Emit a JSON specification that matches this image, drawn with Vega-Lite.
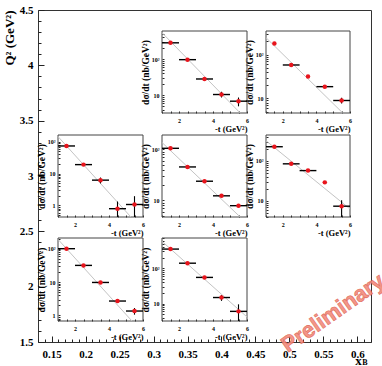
{
"$schema": "https://vega.github.io/schema/vega-lite/v6.json",
"width": 333, "height": 332,
"autosize": "none",
"padding": {"left": 38, "top": 10, "right": 11, "bottom": 24},
"config": {
  "font": "Liberation Serif",
  "view": {"stroke": "#333", "strokeWidth": 1},
  "axis": {"labelFont": "Liberation Serif", "labelFontWeight": "bold", "titleFont": "Liberation Serif", "titleFontWeight": "bold", "labelColor": "black", "titleColor": "black", "tickColor": "#222", "grid": false, "labelFontSize": 6, "titleFontSize": 8}
},
"datasets": {
  "pts": [
    {"panel":"A","t":1.5,"sig":281,"tlo":1,"thi":2},
    {"panel":"A","t":2.5,"sig":96,"tlo":2,"thi":3},
    {"panel":"A","t":3.5,"sig":28,"tlo":3,"thi":4},
    {"panel":"A","t":4.5,"sig":10.4,"tlo":4,"thi":5,"lo":8.6,"hi":12.4},
    {"panel":"A","t":5.5,"sig":6.8,"tlo":5,"thi":6,"lo":4.9,"hi":8.6},
    {"panel":"B","t":1.5,"sig":179},
    {"panel":"B","t":2.5,"sig":58,"tlo":2,"thi":3},
    {"panel":"B","t":3.5,"sig":31.6},
    {"panel":"B","t":4.5,"sig":18.6,"tlo":4,"thi":5},
    {"panel":"B","t":5.5,"sig":9.0,"tlo":5,"thi":6,"lo":7.7,"hi":10.4},
    {"panel":"C","t":1.5,"sig":73,"tlo":1,"thi":2},
    {"panel":"C","t":2.5,"sig":19,"tlo":2,"thi":3},
    {"panel":"C","t":3.5,"sig":6.2,"tlo":3,"thi":4,"lo":4.9,"hi":7.5},
    {"panel":"C","t":4.5,"sig":0.79,"tlo":4,"thi":5,"lo":0.434,"hi":1.33},
    {"panel":"C","t":5.5,"sig":1.07,"tlo":5,"thi":6,"lo":0.434,"hi":1.95},
    {"panel":"D","t":1.5,"sig":104,"tlo":1,"thi":2},
    {"panel":"D","t":2.5,"sig":45,"tlo":2,"thi":3},
    {"panel":"D","t":3.5,"sig":23.7,"tlo":3,"thi":4},
    {"panel":"D","t":4.5,"sig":12.3,"tlo":4,"thi":5},
    {"panel":"D","t":5.5,"sig":7.9,"tlo":5,"thi":6},
    {"panel":"E","t":1.5,"sig":224,"tlo":1,"thi":2},
    {"panel":"E","t":2.5,"sig":84,"tlo":2,"thi":3},
    {"panel":"E","t":3.5,"sig":57,"tlo":3,"thi":4},
    {"panel":"E","t":4.5,"sig":29},
    {"panel":"E","t":5.5,"sig":7.4,"tlo":5,"thi":6,"lo":3.98,"hi":10.4},
    {"panel":"F","t":1.5,"sig":102,"tlo":1,"thi":2},
    {"panel":"F","t":2.5,"sig":32,"tlo":2,"thi":3},
    {"panel":"F","t":3.5,"sig":9.8,"tlo":3,"thi":4},
    {"panel":"F","t":4.5,"sig":2.7,"tlo":4,"thi":5},
    {"panel":"F","t":5.5,"sig":1.35,"tlo":5,"thi":6,"lo":1.05,"hi":1.66},
    {"panel":"G","t":1.5,"sig":349,"tlo":1,"thi":2},
    {"panel":"G","t":2.5,"sig":139,"tlo":2,"thi":3},
    {"panel":"G","t":3.5,"sig":55,"tlo":3,"thi":4},
    {"panel":"G","t":4.5,"sig":14.8,"tlo":4,"thi":5,"lo":11.9,"hi":17.3},
    {"panel":"G","t":5.5,"sig":6.0,"tlo":5,"thi":6,"lo":3.2,"hi":9.5}
  ],
  "fits": [
    {"panel":"A","t":1,"sig":536},{"panel":"A","t":5.6,"sig":3.2},
    {"panel":"B","t":1,"sig":243},{"panel":"B","t":5.57,"sig":4.67},
    {"panel":"C","t":1,"sig":144},{"panel":"C","t":5.29,"sig":0.434},
    {"panel":"D","t":1,"sig":135},{"panel":"D","t":5.6,"sig":4.75},
    {"panel":"E","t":1,"sig":316},{"panel":"E","t":6,"sig":6.3},
    {"panel":"F","t":1,"sig":195},{"panel":"F","t":5.35,"sig":0.676},
    {"panel":"G","t":1,"sig":578},{"panel":"G","t":6,"sig":4.16}
  ],
  "notes": [{"xB": 0.564, "Q2": 1.762, "label": "Preliminary"}]
},
"resolve": {"scale": {"x": "independent", "y": "independent"}, "axis": {"x": "independent", "y": "independent"}},
"layer": [
  {
    "data": {"name": "notes"},
    "mark": {"type": "text", "angle": 325, "fontSize": 22, "font": "Liberation Sans", "fontWeight": "bold", "fill": "#f28b7d", "stroke": "#dd5a48", "strokeWidth": 0.6, "opacity": 0.9},
    "encoding": {
      "text": {"field": "label"},
      "x": {"field": "xB", "type": "quantitative", "scale": {"domain": [0.13, 0.62], "nice": false, "zero": false},
        "axis": {"orient": "bottom", "domain": false, "values": [0.13,0.14,0.15,0.16,0.17,0.18,0.19,0.2,0.21,0.22,0.23,0.24,0.25,0.26,0.27,0.28,0.29,0.3,0.31,0.32,0.33,0.34,0.35,0.36,0.37,0.38,0.39,0.4,0.41,0.42,0.43,0.44,0.45,0.46,0.47,0.48,0.49,0.5,0.51,0.52,0.53,0.54,0.55,0.56,0.57,0.58,0.59,0.6,0.61,0.62],
          "labelExpr": "abs(datum.value*20 - round(datum.value*20)) < 0.001 ? '' + datum.value : ''",
          "tickSize": {"condition": {"test": "abs(datum.value*20 - round(datum.value*20)) < 0.001", "value": -6}, "value": -3},
          "labelPadding": 12, "labelFontSize": 11, "labelFlush": false, "labelOverlap": false,
          "title": "x", "titleFontSize": 13, "titleX": 320, "titleY": 22, "titleBaseline": "alphabetic", "titleAlign": "center"}},
      "y": {"field": "Q2", "type": "quantitative", "scale": {"domain": [1.5, 4.5], "nice": false, "zero": false},
        "axis": {"orient": "left", "domain": false, "values": [1.5,1.6,1.7,1.8,1.9,2,2.1,2.2,2.3,2.4,2.5,2.6,2.7,2.8,2.9,3,3.1,3.2,3.3,3.4,3.5,3.6,3.7,3.8,3.9,4,4.1,4.2,4.3,4.4,4.5],
          "labelExpr": "abs(datum.value*2 - round(datum.value*2)) < 0.001 ? '' + datum.value : ''",
          "tickSize": {"condition": {"test": "abs(datum.value*2 - round(datum.value*2)) < 0.001", "value": -6}, "value": -3},
          "labelPadding": 11, "labelFontSize": 11, "labelFlush": false, "labelOverlap": false,
          "title": "Q² (GeV²)", "titleAnchor": "end", "titleFontSize": 13, "titlePadding": 3}}
    }
  },
  {
    "data": {"values": [{}]},
    "mark": {"type": "text", "text": "B", "fontSize": 8, "fontWeight": "bold", "dx": -6, "dy": 21},
    "encoding": {
      "x": {"datum": 0.62, "type": "quantitative", "scale": {"domain": [0.13, 0.62], "nice": false, "zero": false}, "axis": null},
      "y": {"datum": 1.5, "type": "quantitative", "scale": {"domain": [1.5, 4.5], "nice": false, "zero": false}, "axis": null}
    }
  },

  {"data": {"values": [{}]}, "mark": {"type": "rect", "filled": false, "stroke": "#444", "strokeWidth": 1},
   "encoding": {"x": {"datum": 1, "type": "quantitative", "scale": {"domain": [1,6], "range": [124,209], "nice": false, "zero": false}, "axis": null}, "x2": {"datum": 6},
     "y": {"datum": 3.2, "type": "quantitative", "scale": {"type": "log", "domain": [3.2,597], "range": [103,21], "nice": false}, "axis": null}, "y2": {"datum": 597}}},
  {"data": {"name": "fits"}, "transform": [{"filter": "datum.panel == 'A'"}], "mark": {"type": "line", "color": "#c4c4c4", "strokeWidth": 1},
   "encoding": {"x": {"field": "t", "type": "quantitative", "scale": {"domain": [1,6], "range": [124,209], "nice": false, "zero": false}, "axis": null},
     "y": {"field": "sig", "type": "quantitative", "scale": {"type": "log", "domain": [3.2,597], "range": [103,21], "nice": false}, "axis": null}}},
  {"data": {"name": "pts"}, "transform": [{"filter": "datum.panel == 'A' && isValid(datum.tlo)"}], "mark": {"type": "rule", "color": "black", "strokeWidth": 1.4},
   "encoding": {"x": {"field": "tlo", "type": "quantitative", "scale": {"domain": [1,6], "range": [124,209], "nice": false, "zero": false}, "axis": null}, "x2": {"field": "thi"},
     "y": {"field": "sig", "type": "quantitative", "scale": {"type": "log", "domain": [3.2,597], "range": [103,21], "nice": false}, "axis": null}}},
  {"data": {"name": "pts"}, "transform": [{"filter": "datum.panel == 'A' && isValid(datum.lo)"}], "mark": {"type": "rule", "color": "black", "strokeWidth": 1.1},
   "encoding": {"x": {"field": "t", "type": "quantitative", "scale": {"domain": [1,6], "range": [124,209], "nice": false, "zero": false}, "axis": null},
     "y": {"field": "lo", "type": "quantitative", "scale": {"type": "log", "domain": [3.2,597], "range": [103,21], "nice": false}, "axis": null}, "y2": {"field": "hi"}}},
  {"data": {"name": "pts"}, "transform": [{"filter": "datum.panel == 'A'"}], "mark": {"type": "point", "filled": true, "color": "#e8141c", "size": 20, "opacity": 1},
   "encoding": {"x": {"field": "t", "type": "quantitative", "scale": {"domain": [1,6], "range": [124,209], "nice": false, "zero": false},
       "axis": {"orient": "bottom", "offset": -229, "domain": false, "tickSize": -2, "values": [1,1.5,2,2.5,3,3.5,4,4.5,5,5.5,6], "labelExpr": "datum.value % 2 == 0 ? '' + datum.value : ''", "labelPadding": 6, "labelFlush": false, "labelOverlap": false, "title": "-t (GeV²)", "titleAnchor": "end", "titleFontSize": 8.5, "titlePadding": 1}},
     "y": {"field": "sig", "type": "quantitative", "scale": {"type": "log", "domain": [3.2,597], "range": [103,21], "nice": false},
       "axis": {"orient": "left", "offset": -124, "domain": false, "tickSize": -2, "values": [0.4,0.5,0.6,0.7,0.8,0.9,1,2,3,4,5,6,7,8,9,10,20,30,40,50,60,70,80,90,100,200,300,400,500,600,700], "labelExpr": "datum.value == 1 ? '1' : datum.value == 10 ? '10' : datum.value == 100 ? '10²' : ''", "labelPadding": 5, "labelFlush": false, "labelOverlap": false, "title": "dσ/dt (nb/GeV²)", "titleFontSize": 9.5, "titlePadding": 1}}}},

  {"data": {"values": [{}]}, "mark": {"type": "rect", "filled": false, "stroke": "#444", "strokeWidth": 1},
   "encoding": {"x": {"datum": 1, "type": "quantitative", "scale": {"domain": [1,6], "range": [228,312], "nice": false, "zero": false}, "axis": null}, "x2": {"datum": 6},
     "y": {"datum": 4.67, "type": "quantitative", "scale": {"type": "log", "domain": [4.67,345], "range": [103,21], "nice": false}, "axis": null}, "y2": {"datum": 345}}},
  {"data": {"name": "fits"}, "transform": [{"filter": "datum.panel == 'B'"}], "mark": {"type": "line", "color": "#c4c4c4", "strokeWidth": 1},
   "encoding": {"x": {"field": "t", "type": "quantitative", "scale": {"domain": [1,6], "range": [228,312], "nice": false, "zero": false}, "axis": null},
     "y": {"field": "sig", "type": "quantitative", "scale": {"type": "log", "domain": [4.67,345], "range": [103,21], "nice": false}, "axis": null}}},
  {"data": {"name": "pts"}, "transform": [{"filter": "datum.panel == 'B' && isValid(datum.tlo)"}], "mark": {"type": "rule", "color": "black", "strokeWidth": 1.4},
   "encoding": {"x": {"field": "tlo", "type": "quantitative", "scale": {"domain": [1,6], "range": [228,312], "nice": false, "zero": false}, "axis": null}, "x2": {"field": "thi"},
     "y": {"field": "sig", "type": "quantitative", "scale": {"type": "log", "domain": [4.67,345], "range": [103,21], "nice": false}, "axis": null}}},
  {"data": {"name": "pts"}, "transform": [{"filter": "datum.panel == 'B' && isValid(datum.lo)"}], "mark": {"type": "rule", "color": "black", "strokeWidth": 1.1},
   "encoding": {"x": {"field": "t", "type": "quantitative", "scale": {"domain": [1,6], "range": [228,312], "nice": false, "zero": false}, "axis": null},
     "y": {"field": "lo", "type": "quantitative", "scale": {"type": "log", "domain": [4.67,345], "range": [103,21], "nice": false}, "axis": null}, "y2": {"field": "hi"}}},
  {"data": {"name": "pts"}, "transform": [{"filter": "datum.panel == 'B'"}], "mark": {"type": "point", "filled": true, "color": "#e8141c", "size": 20, "opacity": 1},
   "encoding": {"x": {"field": "t", "type": "quantitative", "scale": {"domain": [1,6], "range": [228,312], "nice": false, "zero": false},
       "axis": {"orient": "bottom", "offset": -229, "domain": false, "tickSize": -2, "values": [1,1.5,2,2.5,3,3.5,4,4.5,5,5.5,6], "labelExpr": "datum.value % 2 == 0 ? '' + datum.value : ''", "labelPadding": 6, "labelFlush": false, "labelOverlap": false, "title": "-t (GeV²)", "titleAnchor": "end", "titleFontSize": 8.5, "titlePadding": 1}},
     "y": {"field": "sig", "type": "quantitative", "scale": {"type": "log", "domain": [4.67,345], "range": [103,21], "nice": false},
       "axis": {"orient": "left", "offset": -228, "domain": false, "tickSize": -2, "values": [0.4,0.5,0.6,0.7,0.8,0.9,1,2,3,4,5,6,7,8,9,10,20,30,40,50,60,70,80,90,100,200,300,400,500,600,700], "labelExpr": "datum.value == 1 ? '1' : datum.value == 10 ? '10' : datum.value == 100 ? '10²' : ''", "labelPadding": 5, "labelFlush": false, "labelOverlap": false, "title": "dσ/dt (nb/GeV²)", "titleFontSize": 9.5, "titlePadding": 1}}}},

  {"data": {"values": [{}]}, "mark": {"type": "rect", "filled": false, "stroke": "#444", "strokeWidth": 1},
   "encoding": {"x": {"datum": 1, "type": "quantitative", "scale": {"domain": [1,6], "range": [20,105], "nice": false, "zero": false}, "axis": null}, "x2": {"datum": 6},
     "y": {"datum": 0.434, "type": "quantitative", "scale": {"type": "log", "domain": [0.434,161], "range": [207,125], "nice": false}, "axis": null}, "y2": {"datum": 161}}},
  {"data": {"name": "fits"}, "transform": [{"filter": "datum.panel == 'C'"}], "mark": {"type": "line", "color": "#c4c4c4", "strokeWidth": 1},
   "encoding": {"x": {"field": "t", "type": "quantitative", "scale": {"domain": [1,6], "range": [20,105], "nice": false, "zero": false}, "axis": null},
     "y": {"field": "sig", "type": "quantitative", "scale": {"type": "log", "domain": [0.434,161], "range": [207,125], "nice": false}, "axis": null}}},
  {"data": {"name": "pts"}, "transform": [{"filter": "datum.panel == 'C' && isValid(datum.tlo)"}], "mark": {"type": "rule", "color": "black", "strokeWidth": 1.4},
   "encoding": {"x": {"field": "tlo", "type": "quantitative", "scale": {"domain": [1,6], "range": [20,105], "nice": false, "zero": false}, "axis": null}, "x2": {"field": "thi"},
     "y": {"field": "sig", "type": "quantitative", "scale": {"type": "log", "domain": [0.434,161], "range": [207,125], "nice": false}, "axis": null}}},
  {"data": {"name": "pts"}, "transform": [{"filter": "datum.panel == 'C' && isValid(datum.lo)"}], "mark": {"type": "rule", "color": "black", "strokeWidth": 1.1},
   "encoding": {"x": {"field": "t", "type": "quantitative", "scale": {"domain": [1,6], "range": [20,105], "nice": false, "zero": false}, "axis": null},
     "y": {"field": "lo", "type": "quantitative", "scale": {"type": "log", "domain": [0.434,161], "range": [207,125], "nice": false}, "axis": null}, "y2": {"field": "hi"}}},
  {"data": {"name": "pts"}, "transform": [{"filter": "datum.panel == 'C'"}], "mark": {"type": "point", "filled": true, "color": "#e8141c", "size": 20, "opacity": 1},
   "encoding": {"x": {"field": "t", "type": "quantitative", "scale": {"domain": [1,6], "range": [20,105], "nice": false, "zero": false},
       "axis": {"orient": "bottom", "offset": -125, "domain": false, "tickSize": -2, "values": [1,1.5,2,2.5,3,3.5,4,4.5,5,5.5,6], "labelExpr": "datum.value % 2 == 0 ? '' + datum.value : ''", "labelPadding": 6, "labelFlush": false, "labelOverlap": false, "title": "-t (GeV²)", "titleAnchor": "end", "titleFontSize": 8.5, "titlePadding": 1}},
     "y": {"field": "sig", "type": "quantitative", "scale": {"type": "log", "domain": [0.434,161], "range": [207,125], "nice": false},
       "axis": {"orient": "left", "offset": -20, "domain": false, "tickSize": -2, "values": [0.4,0.5,0.6,0.7,0.8,0.9,1,2,3,4,5,6,7,8,9,10,20,30,40,50,60,70,80,90,100,200,300,400,500,600,700], "labelExpr": "datum.value == 1 ? '1' : datum.value == 10 ? '10' : datum.value == 100 ? '10²' : ''", "labelPadding": 5, "labelFlush": false, "labelOverlap": false, "title": "dσ/dt (nb/GeV²)", "titleFontSize": 9.5, "titlePadding": 1}}}},

  {"data": {"values": [{}]}, "mark": {"type": "rect", "filled": false, "stroke": "#444", "strokeWidth": 1},
   "encoding": {"x": {"datum": 1, "type": "quantitative", "scale": {"domain": [1,6], "range": [124,209], "nice": false, "zero": false}, "axis": null}, "x2": {"datum": 6},
     "y": {"datum": 4.75, "type": "quantitative", "scale": {"type": "log", "domain": [4.75,189], "range": [207,125], "nice": false}, "axis": null}, "y2": {"datum": 189}}},
  {"data": {"name": "fits"}, "transform": [{"filter": "datum.panel == 'D'"}], "mark": {"type": "line", "color": "#c4c4c4", "strokeWidth": 1},
   "encoding": {"x": {"field": "t", "type": "quantitative", "scale": {"domain": [1,6], "range": [124,209], "nice": false, "zero": false}, "axis": null},
     "y": {"field": "sig", "type": "quantitative", "scale": {"type": "log", "domain": [4.75,189], "range": [207,125], "nice": false}, "axis": null}}},
  {"data": {"name": "pts"}, "transform": [{"filter": "datum.panel == 'D' && isValid(datum.tlo)"}], "mark": {"type": "rule", "color": "black", "strokeWidth": 1.4},
   "encoding": {"x": {"field": "tlo", "type": "quantitative", "scale": {"domain": [1,6], "range": [124,209], "nice": false, "zero": false}, "axis": null}, "x2": {"field": "thi"},
     "y": {"field": "sig", "type": "quantitative", "scale": {"type": "log", "domain": [4.75,189], "range": [207,125], "nice": false}, "axis": null}}},
  {"data": {"name": "pts"}, "transform": [{"filter": "datum.panel == 'D'"}], "mark": {"type": "point", "filled": true, "color": "#e8141c", "size": 20, "opacity": 1},
   "encoding": {"x": {"field": "t", "type": "quantitative", "scale": {"domain": [1,6], "range": [124,209], "nice": false, "zero": false},
       "axis": {"orient": "bottom", "offset": -125, "domain": false, "tickSize": -2, "values": [1,1.5,2,2.5,3,3.5,4,4.5,5,5.5,6], "labelExpr": "datum.value % 2 == 0 ? '' + datum.value : ''", "labelPadding": 6, "labelFlush": false, "labelOverlap": false, "title": "-t (GeV²)", "titleAnchor": "end", "titleFontSize": 8.5, "titlePadding": 1}},
     "y": {"field": "sig", "type": "quantitative", "scale": {"type": "log", "domain": [4.75,189], "range": [207,125], "nice": false},
       "axis": {"orient": "left", "offset": -124, "domain": false, "tickSize": -2, "values": [0.4,0.5,0.6,0.7,0.8,0.9,1,2,3,4,5,6,7,8,9,10,20,30,40,50,60,70,80,90,100,200,300,400,500,600,700], "labelExpr": "datum.value == 1 ? '1' : datum.value == 10 ? '10' : datum.value == 100 ? '10²' : ''", "labelPadding": 5, "labelFlush": false, "labelOverlap": false, "title": "dσ/dt (nb/GeV²)", "titleFontSize": 9.5, "titlePadding": 1}}}},

  {"data": {"values": [{}]}, "mark": {"type": "rect", "filled": false, "stroke": "#444", "strokeWidth": 1},
   "encoding": {"x": {"datum": 1, "type": "quantitative", "scale": {"domain": [1,6], "range": [228,312], "nice": false, "zero": false}, "axis": null}, "x2": {"datum": 6},
     "y": {"datum": 3.98, "type": "quantitative", "scale": {"type": "log", "domain": [3.98,439], "range": [207,125], "nice": false}, "axis": null}, "y2": {"datum": 439}}},
  {"data": {"name": "fits"}, "transform": [{"filter": "datum.panel == 'E'"}], "mark": {"type": "line", "color": "#c4c4c4", "strokeWidth": 1},
   "encoding": {"x": {"field": "t", "type": "quantitative", "scale": {"domain": [1,6], "range": [228,312], "nice": false, "zero": false}, "axis": null},
     "y": {"field": "sig", "type": "quantitative", "scale": {"type": "log", "domain": [3.98,439], "range": [207,125], "nice": false}, "axis": null}}},
  {"data": {"name": "pts"}, "transform": [{"filter": "datum.panel == 'E' && isValid(datum.tlo)"}], "mark": {"type": "rule", "color": "black", "strokeWidth": 1.4},
   "encoding": {"x": {"field": "tlo", "type": "quantitative", "scale": {"domain": [1,6], "range": [228,312], "nice": false, "zero": false}, "axis": null}, "x2": {"field": "thi"},
     "y": {"field": "sig", "type": "quantitative", "scale": {"type": "log", "domain": [3.98,439], "range": [207,125], "nice": false}, "axis": null}}},
  {"data": {"name": "pts"}, "transform": [{"filter": "datum.panel == 'E' && isValid(datum.lo)"}], "mark": {"type": "rule", "color": "black", "strokeWidth": 1.1},
   "encoding": {"x": {"field": "t", "type": "quantitative", "scale": {"domain": [1,6], "range": [228,312], "nice": false, "zero": false}, "axis": null},
     "y": {"field": "lo", "type": "quantitative", "scale": {"type": "log", "domain": [3.98,439], "range": [207,125], "nice": false}, "axis": null}, "y2": {"field": "hi"}}},
  {"data": {"name": "pts"}, "transform": [{"filter": "datum.panel == 'E'"}], "mark": {"type": "point", "filled": true, "color": "#e8141c", "size": 20, "opacity": 1},
   "encoding": {"x": {"field": "t", "type": "quantitative", "scale": {"domain": [1,6], "range": [228,312], "nice": false, "zero": false},
       "axis": {"orient": "bottom", "offset": -125, "domain": false, "tickSize": -2, "values": [1,1.5,2,2.5,3,3.5,4,4.5,5,5.5,6], "labelExpr": "datum.value % 2 == 0 ? '' + datum.value : ''", "labelPadding": 6, "labelFlush": false, "labelOverlap": false, "title": "-t (GeV²)", "titleAnchor": "end", "titleFontSize": 8.5, "titlePadding": 1}},
     "y": {"field": "sig", "type": "quantitative", "scale": {"type": "log", "domain": [3.98,439], "range": [207,125], "nice": false},
       "axis": {"orient": "left", "offset": -228, "domain": false, "tickSize": -2, "values": [0.4,0.5,0.6,0.7,0.8,0.9,1,2,3,4,5,6,7,8,9,10,20,30,40,50,60,70,80,90,100,200,300,400,500,600,700], "labelExpr": "datum.value == 1 ? '1' : datum.value == 10 ? '10' : datum.value == 100 ? '10²' : ''", "labelPadding": 5, "labelFlush": false, "labelOverlap": false, "title": "dσ/dt (nb/GeV²)", "titleFontSize": 9.5, "titlePadding": 1}}}},

  {"data": {"values": [{}]}, "mark": {"type": "rect", "filled": false, "stroke": "#444", "strokeWidth": 1},
   "encoding": {"x": {"datum": 1, "type": "quantitative", "scale": {"domain": [1,6], "range": [20,105], "nice": false, "zero": false}, "axis": null}, "x2": {"datum": 6},
     "y": {"datum": 0.676, "type": "quantitative", "scale": {"type": "log", "domain": [0.676,214], "range": [311,228], "nice": false}, "axis": null}, "y2": {"datum": 214}}},
  {"data": {"name": "fits"}, "transform": [{"filter": "datum.panel == 'F'"}], "mark": {"type": "line", "color": "#c4c4c4", "strokeWidth": 1},
   "encoding": {"x": {"field": "t", "type": "quantitative", "scale": {"domain": [1,6], "range": [20,105], "nice": false, "zero": false}, "axis": null},
     "y": {"field": "sig", "type": "quantitative", "scale": {"type": "log", "domain": [0.676,214], "range": [311,228], "nice": false}, "axis": null}}},
  {"data": {"name": "pts"}, "transform": [{"filter": "datum.panel == 'F' && isValid(datum.tlo)"}], "mark": {"type": "rule", "color": "black", "strokeWidth": 1.4},
   "encoding": {"x": {"field": "tlo", "type": "quantitative", "scale": {"domain": [1,6], "range": [20,105], "nice": false, "zero": false}, "axis": null}, "x2": {"field": "thi"},
     "y": {"field": "sig", "type": "quantitative", "scale": {"type": "log", "domain": [0.676,214], "range": [311,228], "nice": false}, "axis": null}}},
  {"data": {"name": "pts"}, "transform": [{"filter": "datum.panel == 'F' && isValid(datum.lo)"}], "mark": {"type": "rule", "color": "black", "strokeWidth": 1.1},
   "encoding": {"x": {"field": "t", "type": "quantitative", "scale": {"domain": [1,6], "range": [20,105], "nice": false, "zero": false}, "axis": null},
     "y": {"field": "lo", "type": "quantitative", "scale": {"type": "log", "domain": [0.676,214], "range": [311,228], "nice": false}, "axis": null}, "y2": {"field": "hi"}}},
  {"data": {"name": "pts"}, "transform": [{"filter": "datum.panel == 'F'"}], "mark": {"type": "point", "filled": true, "color": "#e8141c", "size": 20, "opacity": 1},
   "encoding": {"x": {"field": "t", "type": "quantitative", "scale": {"domain": [1,6], "range": [20,105], "nice": false, "zero": false},
       "axis": {"orient": "bottom", "offset": -21, "domain": false, "tickSize": -2, "values": [1,1.5,2,2.5,3,3.5,4,4.5,5,5.5,6], "labelExpr": "datum.value % 2 == 0 ? '' + datum.value : ''", "labelPadding": 6, "labelFlush": false, "labelOverlap": false, "title": "-t (GeV²)", "titleAnchor": "end", "titleFontSize": 8.5, "titlePadding": 1}},
     "y": {"field": "sig", "type": "quantitative", "scale": {"type": "log", "domain": [0.676,214], "range": [311,228], "nice": false},
       "axis": {"orient": "left", "offset": -20, "domain": false, "tickSize": -2, "values": [0.4,0.5,0.6,0.7,0.8,0.9,1,2,3,4,5,6,7,8,9,10,20,30,40,50,60,70,80,90,100,200,300,400,500,600,700], "labelExpr": "datum.value == 1 ? '1' : datum.value == 10 ? '10' : datum.value == 100 ? '10²' : ''", "labelPadding": 5, "labelFlush": false, "labelOverlap": false, "title": "dσ/dt (nb/GeV²)", "titleFontSize": 9.5, "titlePadding": 1}}}},

  {"data": {"values": [{}]}, "mark": {"type": "rect", "filled": false, "stroke": "#444", "strokeWidth": 1},
   "encoding": {"x": {"datum": 1, "type": "quantitative", "scale": {"domain": [1,6], "range": [124,209], "nice": false, "zero": false}, "axis": null}, "x2": {"datum": 6},
     "y": {"datum": 3.2, "type": "quantitative", "scale": {"type": "log", "domain": [3.2,719], "range": [311,228], "nice": false}, "axis": null}, "y2": {"datum": 719}}},
  {"data": {"name": "fits"}, "transform": [{"filter": "datum.panel == 'G'"}], "mark": {"type": "line", "color": "#c4c4c4", "strokeWidth": 1},
   "encoding": {"x": {"field": "t", "type": "quantitative", "scale": {"domain": [1,6], "range": [124,209], "nice": false, "zero": false}, "axis": null},
     "y": {"field": "sig", "type": "quantitative", "scale": {"type": "log", "domain": [3.2,719], "range": [311,228], "nice": false}, "axis": null}}},
  {"data": {"name": "pts"}, "transform": [{"filter": "datum.panel == 'G' && isValid(datum.tlo)"}], "mark": {"type": "rule", "color": "black", "strokeWidth": 1.4},
   "encoding": {"x": {"field": "tlo", "type": "quantitative", "scale": {"domain": [1,6], "range": [124,209], "nice": false, "zero": false}, "axis": null}, "x2": {"field": "thi"},
     "y": {"field": "sig", "type": "quantitative", "scale": {"type": "log", "domain": [3.2,719], "range": [311,228], "nice": false}, "axis": null}}},
  {"data": {"name": "pts"}, "transform": [{"filter": "datum.panel == 'G' && isValid(datum.lo)"}], "mark": {"type": "rule", "color": "black", "strokeWidth": 1.1},
   "encoding": {"x": {"field": "t", "type": "quantitative", "scale": {"domain": [1,6], "range": [124,209], "nice": false, "zero": false}, "axis": null},
     "y": {"field": "lo", "type": "quantitative", "scale": {"type": "log", "domain": [3.2,719], "range": [311,228], "nice": false}, "axis": null}, "y2": {"field": "hi"}}},
  {"data": {"name": "pts"}, "transform": [{"filter": "datum.panel == 'G'"}], "mark": {"type": "point", "filled": true, "color": "#e8141c", "size": 20, "opacity": 1},
   "encoding": {"x": {"field": "t", "type": "quantitative", "scale": {"domain": [1,6], "range": [124,209], "nice": false, "zero": false},
       "axis": {"orient": "bottom", "offset": -21, "domain": false, "tickSize": -2, "values": [1,1.5,2,2.5,3,3.5,4,4.5,5,5.5,6], "labelExpr": "datum.value % 2 == 0 ? '' + datum.value : ''", "labelPadding": 6, "labelFlush": false, "labelOverlap": false, "title": "-t (GeV²)", "titleAnchor": "end", "titleFontSize": 8.5, "titlePadding": 1}},
     "y": {"field": "sig", "type": "quantitative", "scale": {"type": "log", "domain": [3.2,719], "range": [311,228], "nice": false},
       "axis": {"orient": "left", "offset": -124, "domain": false, "tickSize": -2, "values": [0.4,0.5,0.6,0.7,0.8,0.9,1,2,3,4,5,6,7,8,9,10,20,30,40,50,60,70,80,90,100,200,300,400,500,600,700], "labelExpr": "datum.value == 1 ? '1' : datum.value == 10 ? '10' : datum.value == 100 ? '10²' : ''", "labelPadding": 5, "labelFlush": false, "labelOverlap": false, "title": "dσ/dt (nb/GeV²)", "titleFontSize": 9.5, "titlePadding": 1}}}}
]
}
